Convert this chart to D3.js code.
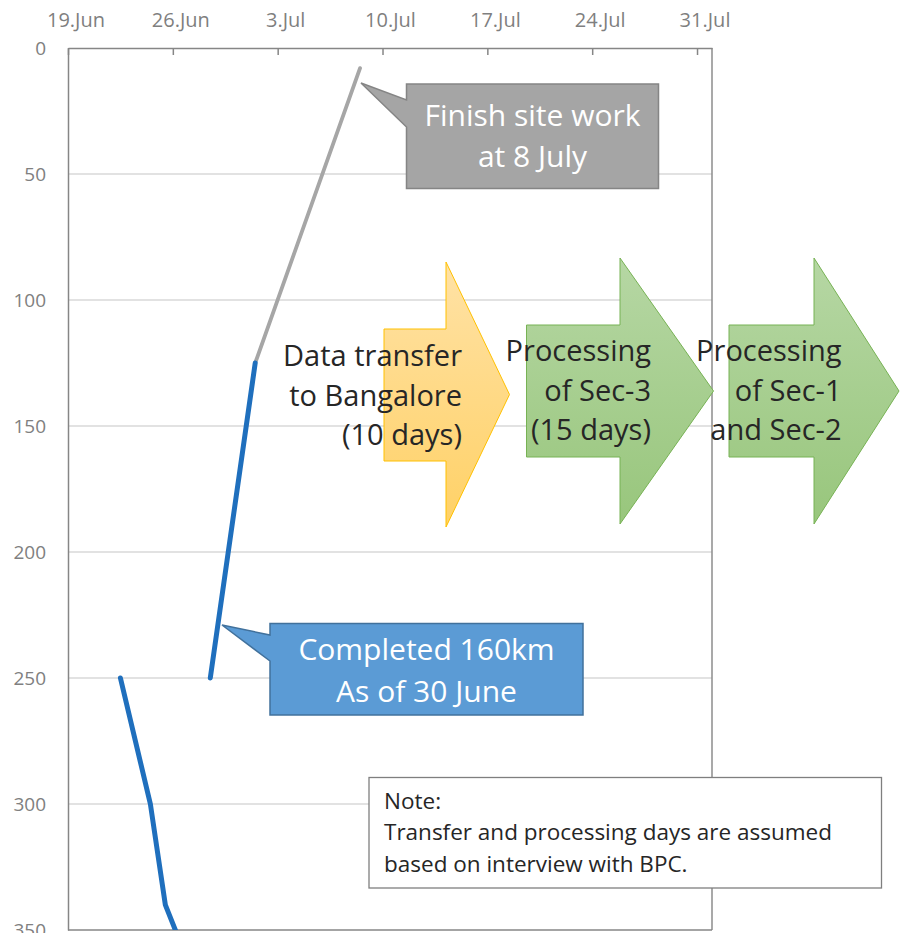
<!DOCTYPE html>
<html>
<head>
<meta charset="utf-8">
<script src="https://cdn.jsdelivr.net/npm/d3@7"></script>
<style>
  html, body { margin: 0; padding: 0; background: #ffffff; }
  svg { display: block; }
  text { font-family: "Open Sans", "Noto Sans", sans-serif; }
</style>
</head>
<body>
<div id="chart"></div>
<script>
// ---------- data ----------
const xTickDates  = ["2017-06-19","2017-06-26","2017-07-03","2017-07-10","2017-07-17","2017-07-24","2017-07-31"];
const xTickLabels = ["19.Jun","26.Jun","3.Jul","10.Jul","17.Jul","24.Jul","31.Jul"];
const yTicks      = [0, 50, 100, 150, 200, 250, 300, 350];

const doneADates  = ["2017-06-22","2017-06-24","2017-06-25","2017-06-26"];
const doneAValues = [250, 300, 340, 355];
const doneBDates  = ["2017-06-28","2017-07-01"];
const doneBValues = [250, 125];
const planDates   = ["2017-07-01","2017-07-08"];
const planValues  = [125, 8];

const siteCalloutLines = ["Finish site work", "at 8 July"];
const doneCalloutLines = ["Completed 160km", "As of 30 June"];
const stepLabels = [
  ["Data transfer", "to Bangalore", "(10 days)"],
  ["Processing", "of Sec-3", "(15 days)"],
  ["Processing", "of Sec-1", "and Sec-2"]
];
const noteLines = ["Note:", "Transfer and processing days are assumed", "based on interview with BPC."];

// ---------- layout ----------
const W = 907, H = 933;
const plot = { left: 68, right: 712, top: 48, bottom: 930 };
const parse = d3.utcParse("%Y-%m-%d");

const x = d3.scaleUtc()
  .domain([parse("2017-06-19"), parse("2017-08-01")])
  .range([plot.left, plot.right]);
const y = d3.scaleLinear().domain([0, 350]).range([plot.top, plot.bottom]);
const mid = d => d3.utcHour.offset(parse(d), 12);
const halfDay = x(parse("2017-06-20")) - x(parse("2017-06-19"));

const svg = d3.select("#chart").append("svg")
  .attr("width", W).attr("height", H);

const defs = svg.append("defs");
defs.append("clipPath").attr("id", "plotClip").append("rect")
  .attr("x", plot.left).attr("y", plot.top - 30)
  .attr("width", plot.right - plot.left).attr("height", plot.bottom - plot.top + 30);

function vGrad(id, c0, c1) {
  const g = defs.append("linearGradient").attr("id", id)
    .attr("x1", 0).attr("y1", 0).attr("x2", 0).attr("y2", 1);
  g.append("stop").attr("offset", "0%").attr("stop-color", c0);
  g.append("stop").attr("offset", "100%").attr("stop-color", c1);
}
vGrad("gOrange", "#ffe2a6", "#ffd166");
vGrad("gGreen", "#b6d7a4", "#98c67c");

// gridlines
svg.append("g").selectAll("line")
  .data(yTicks.filter(v => v > 0 && v < 350))
  .join("line")
  .attr("x1", plot.left).attr("x2", plot.right)
  .attr("y1", d => y(d)).attr("y2", d => y(d))
  .attr("stroke", "#d9d9d9").attr("stroke-width", 1.3);

// plot frame (right & bottom)
svg.append("line").attr("x1", plot.right).attr("x2", plot.right)
  .attr("y1", plot.top).attr("y2", plot.bottom)
  .attr("stroke", "#8c8c8c").attr("stroke-width", 1.5);
svg.append("line").attr("x1", plot.left).attr("x2", plot.right)
  .attr("y1", plot.bottom).attr("y2", plot.bottom)
  .attr("stroke", "#868686").attr("stroke-width", 1.5);

// top date axis
const xAxis = d3.axisTop(x)
  .tickValues(xTickDates.map(parse))
  .tickFormat((d, i) => xTickLabels[i])
  .tickSizeInner(-7).tickSizeOuter(0).tickPadding(21);
const gx = svg.append("g").attr("transform", `translate(0,${plot.top})`).call(xAxis);
gx.select(".domain").attr("stroke", "#868686").attr("stroke-width", 1.5);
gx.selectAll(".tick line").attr("stroke", "#868686").attr("stroke-width", 1.5);
gx.selectAll(".tick text")
  .attr("x", halfDay / 2)
  .attr("fill", "#7f7f7f").style("font-size", "20px")
  .style("font-family", "'Open Sans', sans-serif");

// left value axis
const yAxis = d3.axisLeft(y).tickValues(yTicks).tickSize(0).tickPadding(22);
const gy = svg.append("g").attr("transform", `translate(${plot.left},0)`).call(yAxis);
gy.select(".domain").attr("stroke", "#868686").attr("stroke-width", 1.5);
gy.selectAll(".tick text")
  .attr("fill", "#808080").style("font-size", "19px")
  .style("font-family", "'Open Sans', sans-serif");

// lines
const lineGen = d3.line().x(d => x(d.date)).y(d => y(d.v));
const toPts = (ds, vs) => ds.map((d, i) => ({ date: mid(d), v: vs[i] }));
const gl = svg.append("g").attr("clip-path", "url(#plotClip)");
gl.append("path").datum(toPts(planDates, planValues))
  .attr("d", lineGen).attr("fill", "none")
  .attr("stroke", "#a6a6a6").attr("stroke-width", 3.8).attr("stroke-linecap", "round");
[toPts(doneADates, doneAValues), toPts(doneBDates, doneBValues)].forEach(pts => {
  gl.append("path").datum(pts)
    .attr("d", lineGen).attr("fill", "none")
    .attr("stroke", "#1f6fbd").attr("stroke-width", 5)
    .attr("stroke-linecap", "round").attr("stroke-linejoin", "round");
});

// callouts
function callout(box, tip, attach, fill, stroke, lines, lineYs) {
  const p = d3.path();
  p.moveTo(box.x0, box.y0);
  p.lineTo(box.x1, box.y0);
  p.lineTo(box.x1, box.y1);
  p.lineTo(box.x0, box.y1);
  p.lineTo(box.x0, attach[1]);
  p.lineTo(tip[0], tip[1]);
  p.lineTo(box.x0, attach[0]);
  p.closePath();
  svg.append("path").attr("d", p.toString())
    .attr("fill", fill).attr("stroke", stroke).attr("stroke-width", 1.5);
  const cx = (box.x0 + box.x1) / 2;
  svg.append("g").selectAll("text").data(lines).join("text")
    .attr("x", cx).attr("y", (d, i) => lineYs[i])
    .attr("text-anchor", "middle").attr("fill", "#ffffff")
    .style("font-size", "30px").text(d => d);
}
callout({ x0: 406.5, y0: 84, x1: 658.5, y1: 188.5 }, [361, 83], [100, 127],
  "#a5a5a5", "#858585", siteCalloutLines, [126, 167]);
callout({ x0: 270, y0: 623.5, x1: 583, y1: 715 }, [222, 625], [635, 661],
  "#5b9bd5", "#41719c", doneCalloutLines, [660, 702]);

// process arrows
const arrows = [
  { bx: 384, by0: 329, by1: 461, hx: 446, hy0: 262, hy1: 527, tx: 509.5, ty: 394.5,
    fill: "url(#gOrange)", stroke: "#ffc000", textRight: 462, base: 366 },
  { bx: 526.5, by0: 325, by1: 457, hx: 620, hy0: 258, hy1: 524, tx: 713.5, ty: 391,
    fill: "url(#gGreen)", stroke: "#77b254", textRight: 651, base: 361 },
  { bx: 729, by0: 325, by1: 457, hx: 814, hy0: 258, hy1: 524, tx: 899, ty: 391,
    fill: "url(#gGreen)", stroke: "#77b254", textRight: 841.5, base: 361 }
];
arrows.forEach((a, k) => {
  const pts = [[a.bx, a.by0], [a.hx, a.by0], [a.hx, a.hy0], [a.tx, a.ty],
               [a.hx, a.hy1], [a.hx, a.by1], [a.bx, a.by1]];
  svg.append("polygon").attr("points", pts.map(p => p.join(",")).join(" "))
    .attr("fill", a.fill).attr("stroke", a.stroke).attr("stroke-width", 1);
});
arrows.forEach((a, k) => {
  svg.append("g").selectAll("text").data(stepLabels[k]).join("text")
    .attr("x", a.textRight).attr("y", (d, i) => a.base + i * 39.5)
    .attr("text-anchor", "end").attr("fill", "#262626")
    .style("font-size", "29px").text(d => d);
});

// note box
svg.append("rect").attr("x", 369).attr("y", 777.5).attr("width", 512.5).attr("height", 110.5)
  .attr("fill", "#ffffff").attr("stroke", "#7f7f7f").attr("stroke-width", 1.3);
svg.append("g").selectAll("text").data(noteLines).join("text")
  .attr("x", 384).attr("y", (d, i) => 809 + i * 31.3)
  .attr("fill", "#262626").style("font-size", "22.5px").text(d => d);
</script>
</body>
</html>
